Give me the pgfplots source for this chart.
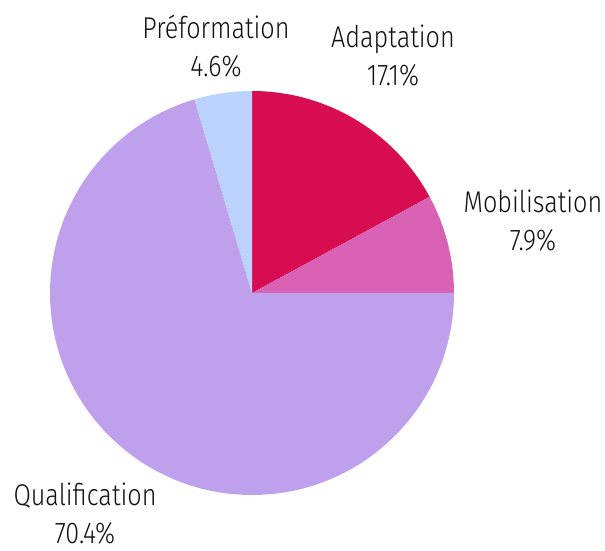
\documentclass[border=0pt]{standalone}
\usepackage{fontspec}
\setmainfont{Fira Sans}[UprightFont=* Light, FakeStretch=0.84]
\usepackage{pgfplots}
\pgfplotsset{compat=1.18}
\definecolor{cadapt}{HTML}{D80C50}
\definecolor{cmobil}{HTML}{DA62B4}
\definecolor{cqual}{HTML}{BFA0EC}
\definecolor{cpref}{HTML}{BBD3FC}
\definecolor{ctext}{HTML}{111111}
% cumulative percent before slice, slice percent, colour
\newcommand\slice[3]{\fill[#3] (axis cs:252,258) -- ++({90-3.6*(#1)}:202pt) arc[start angle={90-3.6*(#1)}, delta angle={-3.6*(#2)}, radius=202pt] -- cycle;}
\begin{document}
\begin{tikzpicture}
\begin{axis}[
  scale only axis, width=605pt, height=551pt,
  xmin=0, xmax=605, ymin=0, ymax=551,
  hide axis, clip=false,
]
\addplot[draw=none] coordinates {(0,0) (605,551)};
\slice{0}{17.1}{cadapt}
\slice{17.1}{7.9}{cmobil}
\slice{25}{70.4}{cqual}
\slice{95.4}{4.6}{cpref}
\begin{scope}[every node/.style={align=center, font=\fontsize{30}{38}\selectfont, text=ctext, inner sep=0pt}]
\node at (axis cs:216,505) {Préformation\\4.6\%};
\node at (axis cs:393,495) {Adaptation\\17.1\%};
\node at (axis cs:533,330) {Mobilisation\\7.9\%};
\node at (axis cs:85,37) {Qualification\\70.4\%};
\end{scope}
\end{axis}
\end{tikzpicture}
\end{document}
